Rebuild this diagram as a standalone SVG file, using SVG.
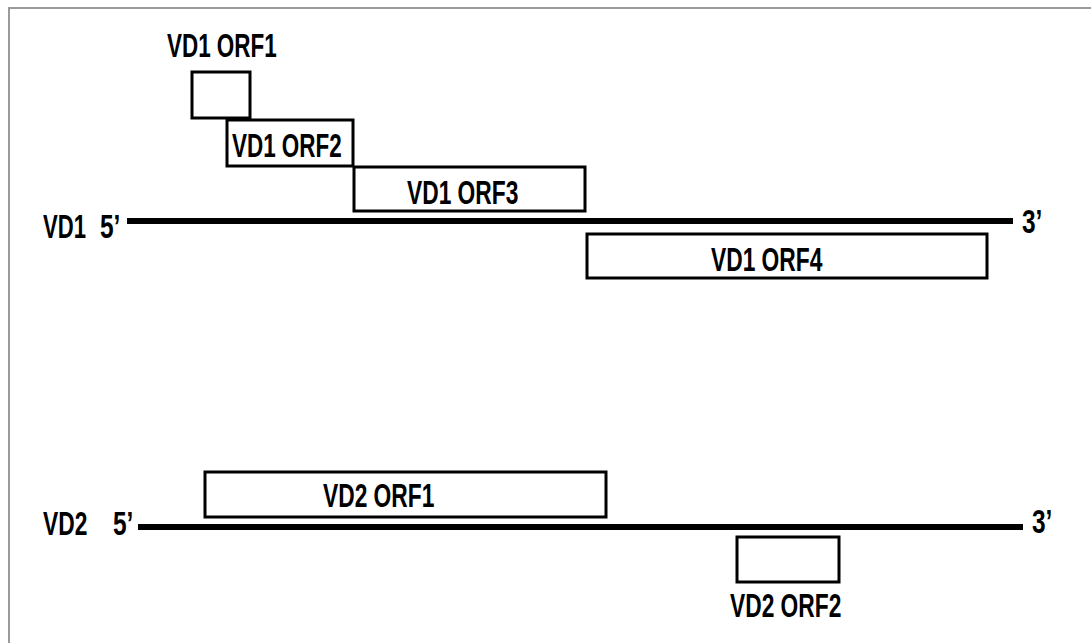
<svg xmlns="http://www.w3.org/2000/svg" width="1091" height="643" viewBox="0 0 1091 643">
  <style>
    .frame { fill: #ffffff; stroke: #9a9a9a; stroke-width: 2; }
    .orf { fill: #ffffff; stroke: #000000; stroke-width: 3; }
    .genome { stroke: #000000; stroke-width: 6; fill: none; }
    .lbl { font-family: "Liberation Sans", Arial, sans-serif; font-weight: bold; font-size: 34px; fill: #000000; }
  </style>
  <rect class="frame" x="9" y="8" width="1092" height="645"/>

  <g id="connectors">
    <line class="genome" x1="127" y1="221" x2="1013" y2="221"/>
    <line class="genome" x1="138" y1="527" x2="1023" y2="527"/>
  </g>

  <g id="vd1-label">
    <text class="lbl" transform="matrix(0.65 0 0 1 43 238)">VD1</text>
    <text class="lbl" transform="matrix(0.72 0 0 1 100 238)">5’</text>
    <text class="lbl" transform="matrix(0.72 0 0 1 1022 233)">3’</text>
  </g>

  <g id="vd1-orf1">
    <rect class="orf" x="192" y="72" width="58" height="46"/>
    <text class="lbl" transform="matrix(0.66 0 0 1 167 57)">VD1 ORF1</text>
  </g>

  <g id="vd1-orf2">
    <rect class="orf" x="227" y="120" width="126" height="46"/>
    <text class="lbl" transform="matrix(0.66 0 0 1 232 157)">VD1 ORF2</text>
  </g>

  <g id="vd1-orf3">
    <rect class="orf" x="354" y="167" width="231" height="44"/>
    <text class="lbl" transform="matrix(0.67 0 0 1 407 204)">VD1 ORF3</text>
  </g>

  <g id="vd1-orf4">
    <rect class="orf" x="587" y="234" width="400" height="44"/>
    <text class="lbl" transform="matrix(0.67 0 0 1 711 271)">VD1 ORF4</text>
  </g>

  <g id="vd2-label">
    <text class="lbl" transform="matrix(0.67 0 0 1 43 535)">VD2</text>
    <text class="lbl" transform="matrix(0.72 0 0 1 113 535)">5’</text>
    <text class="lbl" transform="matrix(0.72 0 0 1 1032 533)">3’</text>
  </g>

  <g id="vd2-orf1">
    <rect class="orf" x="205" y="472" width="401" height="45"/>
    <text class="lbl" transform="matrix(0.67 0 0 1 323 507)">VD2 ORF1</text>
  </g>

  <g id="vd2-orf2">
    <rect class="orf" x="737" y="537" width="102" height="45"/>
    <text class="lbl" transform="matrix(0.67 0 0 1 730 617)">VD2 ORF2</text>
  </g>
</svg>
